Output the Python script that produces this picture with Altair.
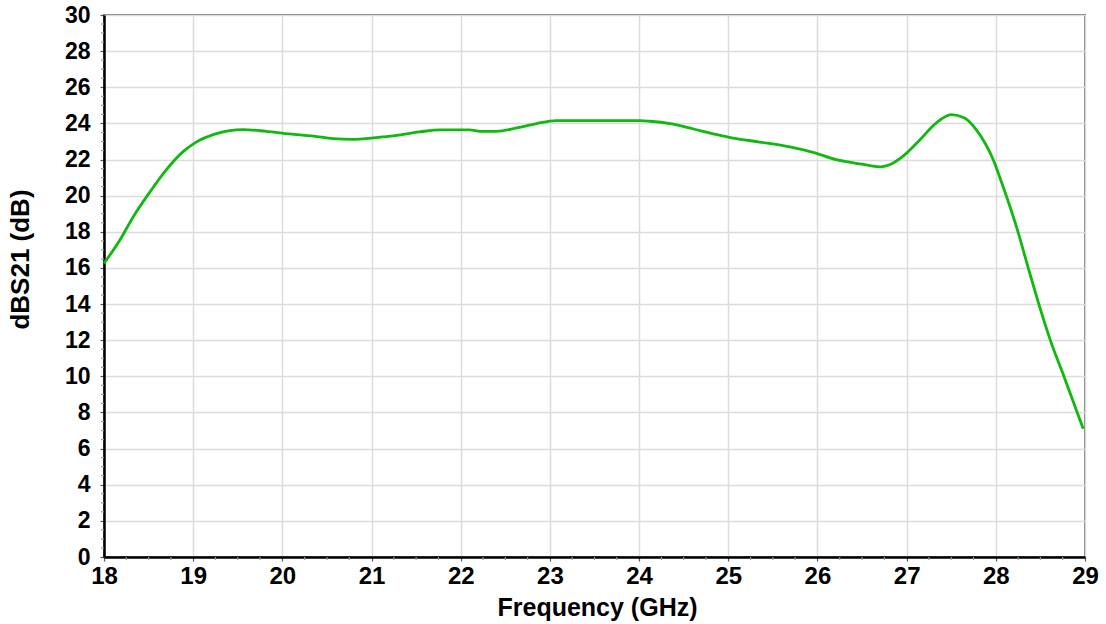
import altair as alt
import pandas as pd

freq = [18.0, 18.18, 18.33, 18.52, 18.70, 18.89, 19.02, 19.26, 19.56, 19.82, 20.08,
        20.35, 20.57, 20.79, 21.02, 21.21, 21.54, 21.77, 22.10, 22.22, 22.40, 22.63,
        22.85, 23.07, 23.5, 24.01, 24.12, 24.35, 24.61, 24.91, 25.09, 25.35, 25.69,
        25.95, 26.21, 26.36, 26.59, 26.70, 26.85, 26.98, 27.15, 27.33, 27.50, 27.65,
        27.78, 27.97, 28.08, 28.23, 28.38, 28.49, 28.61, 28.75, 28.98]
dbs21 = [16.25, 17.56, 18.85, 20.24, 21.44, 22.45, 22.92, 23.43, 23.66, 23.56, 23.42,
         23.29, 23.16, 23.12, 23.2, 23.29, 23.53, 23.64, 23.64, 23.56, 23.56, 23.75,
         23.99, 24.15, 24.15, 24.15, 24.12, 23.99, 23.69, 23.34, 23.16, 22.97, 22.70,
         22.40, 21.99, 21.85, 21.66, 21.59, 21.81, 22.27, 23.1, 24.02, 24.49, 24.3,
         23.66, 22.0, 20.52, 18.3, 15.72, 13.87, 12.02, 10.18, 7.1]

x_ticks = list(range(18, 30))
y_ticks = list(range(0, 31, 2))
x_minor = [18 + 0.25 * i for i in range(45) if i % 4 != 0]
y_minor = [0.5 * i for i in range(61) if i % 4 != 0]

df = pd.DataFrame({"f": freq, "v": dbs21})
xs = alt.Scale(domain=[18, 29], nice=False)
ys = alt.Scale(domain=[0, 30], nice=False)
FONT = "Liberation Sans"

xaxis = alt.Axis(values=x_ticks, format="d", labelFontSize=24, titleFontSize=25,
                 labelPadding=3, tickSize=4,
                 titleX=493, titleY=58, titleBaseline="alphabetic",
                 labelOverlap=False, labelFlush=False)
yaxis = alt.Axis(values=y_ticks, format="d", labelFontSize=23, titleFontSize=26,
                 labelPadding=10, tickSize=4,
                 titleX=-71, titleY=244, titleBaseline="bottom", titleAngle=270,
                 labelOverlap=False, labelFlush=False)
XT = "Frequency (GHz)"
YT = "dBS21 (dB)"

line = alt.Chart(df).mark_line(color="#10b810", strokeWidth=2.8, interpolate="monotone").encode(
    x=alt.X("f:Q", scale=xs, title=XT, axis=xaxis),
    y=alt.Y("v:Q", scale=ys, title=YT, axis=yaxis),
)

xm = alt.Chart(pd.DataFrame({"t": x_minor})).mark_rule(color="#999999", strokeWidth=1.2, clip=False).encode(
    x=alt.X("t:Q", scale=xs, title=XT, axis=xaxis), y=alt.value(542), y2=alt.value(545))
ym = alt.Chart(pd.DataFrame({"t": y_minor})).mark_rule(color="#999999", strokeWidth=1.2, clip=False).encode(
    y=alt.Y("t:Q", scale=ys, title=YT, axis=yaxis), x=alt.value(-3), x2=alt.value(0))

chart = alt.layer(line, xm, ym).properties(
    width=981, height=542,
    autosize=alt.AutoSizeParams(type="none"),
    padding={"left": 104, "top": 15, "right": 21, "bottom": 67},
).configure_view(stroke="#7a7a7a", strokeWidth=2).configure_axis(
    labelFont=FONT, titleFont=FONT, labelFontWeight="bold", titleFontWeight="bold",
    labelColor="#000000", titleColor="#000000",
    domainColor="#000000", domainWidth=2.5, tickColor="#555555", tickWidth=1.2,
    gridColor="#dcdcdc", gridWidth=1.5,
)

chart.save("out.html", embed_options={"renderer": "svg", "actions": False})
